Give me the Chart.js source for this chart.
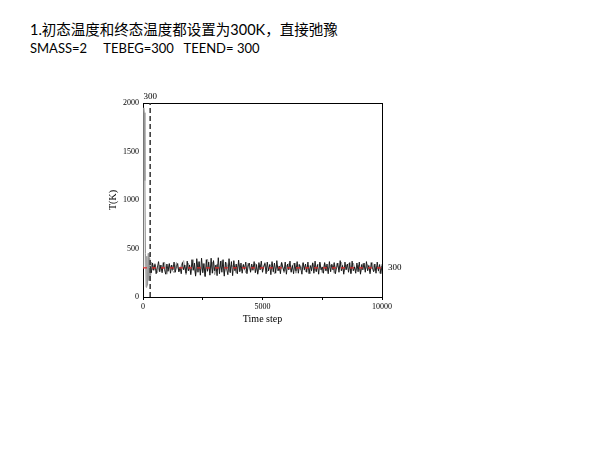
<!DOCTYPE html>
<html>
<head>
<meta charset="utf-8">
<script src="https://cdn.jsdelivr.net/npm/chart.js@4.4.0/dist/chart.umd.min.js"></script>
<style>
  body { margin: 0; background: #fff; width: 600px; height: 450px; position: relative; overflow: hidden; }
  .head { position: absolute; left: 30px; top: 21px; font-family: Lato, "Noto Sans CJK SC", sans-serif; font-size: 14.5px; line-height: 18px; color: #000; white-space: pre; }
  .head .l2 { font-size: 13px; }
  #wrap { position: absolute; left: 105px; top: 85px; width: 310px; height: 240px; }
</style>
</head>
<body>
<div class="head">1.初态温度和终态温度都设置为300K，直接弛豫
<span class="l2">SMASS=2     TEBEG=300   TEEND= 300</span></div>
<div id="wrap"><canvas id="tchart"></canvas></div>
<script>
// target temperature and the step where the dashed marker sits
const targetTemp = 300;
const markerStep = 300;
const xTicks = [0, 2500, 5000, 7500, 10000];
const xLabels = ['0', '', '5000', '', '10000'];
const yTicks = [0, 500, 1000, 1500, 2000];

// gray trace: start-up spike, then sampled every 100 steps from step 400
const grayStartSteps = [0, 30, 55, 80, 105, 130, 160, 190, 220, 250, 280, 320, 360];
const grayStartTemps = [300, 1950, 1900, 1200, 450, 100, 420, 120, 450, 170, 400, 220, 360];
const grayFirstStep = 400;
const grayStep = 100;
const grayTemps = [
  280, 345, 250, 330, 265, 360, 235, 340, 285, 250, 355, 260, 325, 375, 230, 350, 245, 385, 225, 365,
  255, 345, 215, 390, 250, 360, 230, 340, 275, 375, 240, 355, 260, 330, 305, 245, 350, 270, 335, 250,
  350, 265, 320, 345, 245, 335, 280, 355, 260, 310, 345, 240, 330, 270, 360, 250, 320, 345, 265, 350,
  245, 335, 280, 350, 260, 330, 240, 355, 270, 320, 345, 250, 350, 265, 305, 340, 245, 345, 280, 360,
  255, 320, 345, 245, 350, 270, 330, 250, 345, 280, 335, 260, 355, 270, 320, 245, 340
];

// black trace, sampled every 50 steps from step 300
const blackFirstStep = 300;
const blackStep = 50;
const blackTemps = [
  320, 250, 350, 275, 335, 240, 300, 365, 260, 330, 250, 355, 285, 235, 340,
  265, 345, 245, 330, 280, 360, 255, 315, 345, 260, 305, 240, 355, 280, 330,
  245, 370, 270, 330, 230, 385, 275, 350, 215, 395, 255, 365, 225, 400, 250,
  345, 210, 385, 265, 360, 225, 400, 245, 375, 270, 330, 220, 405, 240, 370,
  255, 385, 215, 360, 290, 230, 395, 250, 365, 220, 375, 270, 340, 240, 380,
  260, 350, 245, 335, 285, 360, 240, 320, 350, 255, 340, 275, 365, 250, 335,
  235, 355, 280, 370, 255, 310, 345, 240, 360, 270, 335, 230, 365, 260, 350,
  245, 375, 270, 320, 240, 355, 305, 265, 360, 235, 340, 280, 370, 255, 325,
  240, 350, 270, 365, 245, 335, 300, 235, 355, 280, 340, 255, 360, 240, 325,
  270, 350, 245, 370, 260, 335, 235, 360, 280, 310, 245, 355, 270, 340, 240,
  365, 260, 335, 280, 355, 240, 305, 350, 255, 375, 270, 325, 235, 360, 280,
  340, 255, 355, 240, 370, 270, 310, 245, 350, 260, 360, 235, 335, 280, 350,
  255, 365, 270, 325, 240, 355, 300, 260, 340, 245, 360, 270, 335, 240, 320
];

const serif = 'Liberation Serif';

function grayPoints() {
  var pts = [];
  for (var i = 0; i < grayStartSteps.length; i++) {
    pts.push({ x: grayStartSteps[i], y: grayStartTemps[i] });
  }
  for (var j = 0; j < grayTemps.length; j++) {
    pts.push({ x: grayFirstStep + j * grayStep, y: grayTemps[j] });
  }
  return pts;
}

function blackPoints() {
  var pts = [];
  for (var i = 0; i < blackTemps.length; i++) {
    pts.push({ x: blackFirstStep + i * blackStep, y: blackTemps[i] });
  }
  return pts;
}

new Chart(document.getElementById('tchart'), {
  type: 'line',
  data: {
    datasets: [
      {
        data: grayPoints(),
        borderColor: 'rgb(150,150,150)',
        borderWidth: 1,
        pointRadius: 0,
        order: 4
      },
      {
        data: blackPoints(),
        borderColor: 'rgb(15,15,15)',
        borderWidth: 0.9,
        pointRadius: 0,
        order: 3
      },
      {
        data: [{ x: markerStep, y: yTicks[0] }, { x: markerStep, y: yTicks[yTicks.length - 1] }],
        borderColor: '#333',
        borderWidth: 1.5,
        borderDash: [5, 3],
        pointRadius: 0,
        order: 2
      },
      {
        data: [{ x: xTicks[0], y: targetTemp }, { x: xTicks[xTicks.length - 1], y: targetTemp }],
        borderColor: 'rgb(225,40,40)',
        borderWidth: 1.2,
        borderDash: [4, 5],
        pointRadius: 0,
        order: 1
      }
    ]
  },
  options: {
    responsive: true,
    maintainAspectRatio: false,
    animation: false,
    events: [],
    layout: { padding: 0 },
    plugins: { legend: { display: false }, tooltip: { enabled: false } },
    scales: {
      x: {
        type: 'linear', position: 'bottom', min: 0, max: 10000,
        afterBuildTicks: function(s) { s.ticks = xTicks.map(function(v) { return { value: v }; }); },
        afterFit: function(s) { s.height = 28; },
        ticks: {
          autoSkip: false, maxRotation: 0, padding: 2, color: '#000',
          font: { family: serif, size: 8 },
          callback: function(v) { return xLabels[xTicks.indexOf(v)]; }
        },
        grid: { drawOnChartArea: false, tickLength: 3, color: '#000' },
        border: { display: true, color: '#000', width: 1 },
        title: { display: true, text: 'Time step', color: '#000', padding: 0, font: { family: serif, size: 10 } }
      },
      x2: {
        type: 'linear', position: 'top', min: 0, max: 10000,
        afterBuildTicks: function(s) { s.ticks = [{ value: markerStep }]; },
        afterFit: function(s) { s.height = 18; },
        ticks: { padding: 1, color: '#000', font: { family: serif, size: 9 } },
        grid: { drawOnChartArea: false, drawTicks: false },
        border: { display: true, color: '#000', width: 1 }
      },
      y: {
        type: 'linear', position: 'left', min: 0, max: 2000,
        afterBuildTicks: function(s) { s.ticks = yTicks.map(function(v) { return { value: v }; }); },
        afterFit: function(s) { s.width = 38; },
        ticks: {
          padding: 4, color: '#000', font: { family: serif, size: 8 },
          callback: function(v) { return String(v); }
        },
        grid: { drawOnChartArea: false, drawTicks: false },
        border: { display: true, color: '#000', width: 1 },
        title: { display: true, text: 'T(K)', color: '#000', padding: 2, font: { family: serif, size: 10 } }
      },
      y2: {
        type: 'linear', position: 'right', min: 0, max: 2000,
        afterBuildTicks: function(s) { s.ticks = [{ value: targetTemp }]; },
        afterFit: function(s) { s.width = 33; },
        ticks: { padding: 6, color: '#000', font: { family: serif, size: 9 } },
        grid: { drawOnChartArea: false, drawTicks: false },
        border: { display: true, color: '#000', width: 1 }
      }
    }
  }
});
</script>
</body>
</html>
